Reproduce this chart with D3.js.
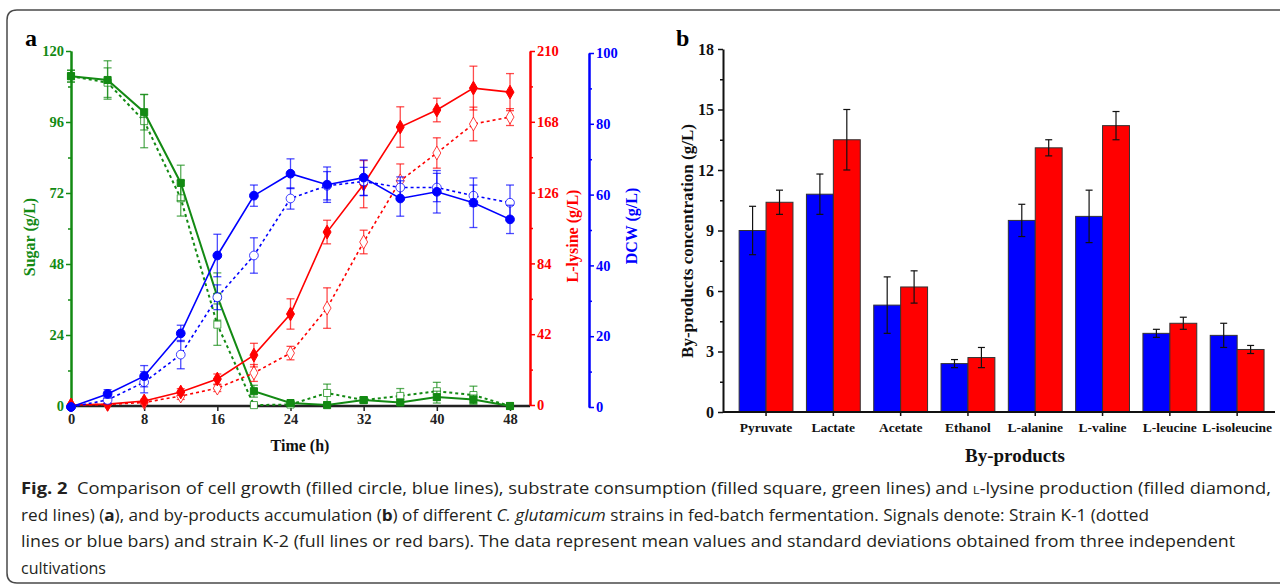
<!DOCTYPE html>
<html>
<head>
<meta charset="utf-8">
<script src="https://cdn.jsdelivr.net/npm/d3@7"></script>
<style>
  body { margin: 0; background: #fff; }
  svg { display: block; }
  .ax text { font-family: "Liberation Serif", serif; font-weight: bold; }
  .cap { font-family: "Open Sans", sans-serif; font-size: 16px; fill: #231f20; }
</style>
</head>
<body>
<div id="chart"></div>
<script>
// panel a data
var time = [0, 4, 8, 12, 16, 20, 24, 28, 32, 36, 40, 44, 48];
var sugarK2 = [111.5, 110.2, 99.3, 75.4, 37, 5, 1, 0.3, 2, 1.2, 3, 2.2, 0];
var sugarK2Err = [2, 6.5, 6, 6, 8, 2, 0.5, 0.3, 0.8, 1, 2, 1.5, 0.3];
var sugarK1 = [111.5, 109.3, 96.3, 70.2, 27.5, 0.3, 0.5, 4.4, 2, 3.4, 5, 3.7, 0];
var sugarK1Err = [2, 5, 9, 6, 7, 0.5, 0.3, 3, 1, 2.5, 3, 3, 0.3];
var lysK2 = [0, 0.5, 2.4, 7.7, 15.4, 29.6, 54, 102.6, 131, 164.9, 175, 188, 185.6];
var lysK2Err = [0.3, 0.5, 1, 2, 3, 7, 9, 7, 14, 12, 7, 13, 11];
var lysK1 = [0, 0.3, 1.5, 5.3, 10, 19, 30.8, 57.5, 96.7, 133, 149.5, 166.7, 170.8];
var lysK1Err = [0.3, 0.3, 1, 2, 2, 5, 4, 12, 7, 10, 9, 10, 5];
var dcwK2 = [0, 3.7, 8.7, 20.8, 42.8, 59.7, 65.9, 62.8, 64.8, 58.9, 60.8, 57.7, 53];
var dcwK2Err = [0.5, 1.2, 3, 2.3, 6, 3, 4.2, 5, 5, 5, 6, 7, 4];
var dcwK1 = [0, 2, 7, 14.8, 31, 42.8, 58.9, 62.5, 63.7, 62, 62, 59.7, 57.7];
var dcwK1Err = [0.5, 1, 3, 4, 3.5, 5, 3, 4, 4, 3, 4, 3, 5];
var timeTicks = [0, 8, 16, 24, 32, 40, 48];
var sugarTicks = [0, 24, 48, 72, 96, 120];
var lysTicks = [0, 42, 84, 126, 168, 210];
var dcwTicks = [0, 20, 40, 60, 80, 100];

// panel b data
var byCats = ['Pyruvate', 'Lactate', 'Acetate', 'Ethanol', 'L-alanine', 'L-valine', 'L-leucine', 'L-isoleucine'];
var byK1 = [9.0, 10.8, 5.3, 2.4, 9.5, 9.7, 3.9, 3.8];
var byK1Err = [1.2, 1.0, 1.4, 0.2, 0.8, 1.3, 0.2, 0.6];
var byK2 = [10.4, 13.5, 6.2, 2.7, 13.1, 14.2, 4.4, 3.1];
var byK2Err = [0.6, 1.5, 0.8, 0.5, 0.4, 0.7, 0.3, 0.2];
var byTicks = [0, 3, 6, 9, 12, 15, 18];

var GREEN = '#138a13', RED = '#ff0000', BLUE = '#0000ff';

var svg = d3.select('#chart').append('svg')
  .attr('width', 1280).attr('height', 586);

// frame with rounded corner, open to the right
svg.append('path')
  .attr('d', 'M1290,10 H17 Q7,10 7,20 V573 Q7,583 17,583 H1290')
  .attr('fill', 'none').attr('stroke', '#4a4a4a').attr('stroke-width', 1.5);

// ---------- panel a ----------
var x = d3.scaleLinear().domain([0, 48]).range([71, 510]);
var ySugar = d3.scaleLinear().domain([0, 120]).range([406, 51]);
var yLys = d3.scaleLinear().domain([0, 210]).range([405, 51]);
var yDcw = d3.scaleLinear().domain([0, 100]).range([407, 53]);

function axisStyle(g, color) {
  g.select('.domain').attr('stroke', color).attr('stroke-width', 2);
  g.selectAll('line').attr('stroke', color).attr('stroke-width', 1.5);
  g.selectAll('text').attr('fill', color);
}

function minorTicks(scale, step) {
  var d = scale.domain(), out = [];
  for (var v = d[0] + step; v < d[1]; v += 2 * step) out.push(v);
  return out;
}

// x axis
var gx = svg.append('g').attr('class', 'ax').attr('transform', 'translate(0,406)')
  .call(d3.axisBottom(x).tickValues(timeTicks).tickSize(5).tickPadding(3).tickSizeOuter(0));
gx.select('.domain').attr('d', 'M71,0H530');
axisStyle(gx, '#222');
gx.selectAll('text').style('font-size', '14.5px');
gx.select('.domain').attr('stroke-width', 2.5);

// sugar axis (left)
var gs = svg.append('g').attr('class', 'ax').attr('transform', 'translate(71,0)')
  .call(d3.axisLeft(ySugar).tickValues(sugarTicks).tickSize(5).tickPadding(2).tickSizeOuter(0));
gs.selectAll('text').style('font-size', '14.5px');
svg.append('g').attr('class', 'ax').attr('transform', 'translate(71,0)')
  .call(d3.axisLeft(ySugar).tickValues(minorTicks(ySugar, 12)).tickSize(3).tickFormat('').tickSizeOuter(0))
  .call(function (g) { axisStyle(g, GREEN); });
axisStyle(gs, GREEN);

// lysine axis (right 1)
var gl = svg.append('g').attr('class', 'ax').attr('transform', 'translate(530,0)')
  .call(d3.axisRight(yLys).tickValues(lysTicks).tickSize(5).tickPadding(2).tickSizeOuter(0));
gl.selectAll('text').style('font-size', '14.5px');
svg.append('g').attr('class', 'ax').attr('transform', 'translate(530,0)')
  .call(d3.axisRight(yLys).tickValues(minorTicks(yLys, 21)).tickSize(3).tickFormat('').tickSizeOuter(0))
  .call(function (g) { axisStyle(g, RED); });
axisStyle(gl, RED);

// dcw axis (right 2)
var gd = svg.append('g').attr('class', 'ax').attr('transform', 'translate(589,0)')
  .call(d3.axisRight(yDcw).tickValues(dcwTicks).tickSize(5).tickPadding(2).tickSizeOuter(0));
gd.selectAll('text').style('font-size', '14.5px');
svg.append('g').attr('class', 'ax').attr('transform', 'translate(589,0)')
  .call(d3.axisRight(yDcw).tickValues(minorTicks(yDcw, 10)).tickSize(3).tickFormat('').tickSizeOuter(0))
  .call(function (g) { axisStyle(g, BLUE); });
axisStyle(gd, BLUE);

// axis titles
function vtitle(tx, ty, txt, color, size) {
  svg.append('text')
    .attr('transform', 'translate(' + tx + ',' + ty + ') rotate(-90)')
    .attr('text-anchor', 'middle')
    .style('font-family', '"Liberation Serif", serif').style('font-weight', 'bold')
    .style('font-size', size + 'px').attr('fill', color).text(txt);
}
vtitle(35, 237, 'Sugar (g/L)', GREEN, 16);
vtitle(578, 236, 'L-lysine (g/L)', RED, 16);
vtitle(637, 226, 'DCW (g/L)', BLUE, 16);
svg.append('text').attr('x', 300).attr('y', 451).attr('text-anchor', 'middle')
  .style('font-family', '"Liberation Serif", serif').style('font-weight', 'bold').style('font-size', '16px')
  .attr('fill', '#111').text('Time (h)');
svg.append('text').attr('x', 25).attr('y', 46)
  .style('font-family', '"Liberation Serif", serif').style('font-weight', 'bold').style('font-size', '24px')
  .attr('fill', '#000').text('a');

// series
function drawSeries(vals, errs, yScale, color, dashed, shape, filled, lw) {
  var g = svg.append('g');
  var pts = time.map(function (t, i) { return { t: t, v: vals[i], e: errs[i] }; });
  // error bars
  var eb = g.append('g').attr('stroke', color).attr('stroke-opacity', 0.7).attr('stroke-width', 1.3);
  pts.forEach(function (p) {
    var cx = x(p.t), y1 = yScale(p.v + p.e), y0 = yScale(Math.max(0, p.v - p.e));
    eb.append('line').attr('x1', cx).attr('x2', cx).attr('y1', y1).attr('y2', y0);
    eb.append('line').attr('x1', cx - 4).attr('x2', cx + 4).attr('y1', y1).attr('y2', y1);
    eb.append('line').attr('x1', cx - 4).attr('x2', cx + 4).attr('y1', y0).attr('y2', y0);
  });
  var line = d3.line().x(function (p) { return x(p.t); }).y(function (p) { return yScale(p.v); });
  g.append('path').datum(pts).attr('d', line).attr('fill', 'none')
    .attr('stroke', color).attr('stroke-width', lw)
    .attr('stroke-dasharray', dashed ? '3,3' : null);
  var sym = d3.symbol().type(shape).size(shape === d3.symbolSquare ? 50 : (shape === d3.symbolDiamond ? 55 : 60));
  g.selectAll('.m').data(pts).enter().append('path')
    .attr('d', sym)
    .attr('transform', function (p) { return 'translate(' + x(p.t) + ',' + yScale(p.v) + ')'; })
    .attr('fill', filled ? color : '#fff')
    .attr('stroke', color).attr('stroke-opacity', filled ? 1 : 0.75).attr('stroke-width', 1);
}

drawSeries(sugarK1, sugarK1Err, ySugar, GREEN, true, d3.symbolSquare, false, 2);
drawSeries(sugarK2, sugarK2Err, ySugar, GREEN, false, d3.symbolSquare, true, 2);
drawSeries(lysK1, lysK1Err, yLys, RED, true, d3.symbolDiamond, false, 1.6);
drawSeries(lysK2, lysK2Err, yLys, RED, false, d3.symbolDiamond, true, 1.6);
drawSeries(dcwK1, dcwK1Err, yDcw, BLUE, true, d3.symbolCircle, false, 1.6);
drawSeries(dcwK2, dcwK2Err, yDcw, BLUE, false, d3.symbolCircle, true, 1.6);

// ---------- panel b ----------
var xb = d3.scaleBand().domain(byCats).range([732.4, 1270.8]).paddingInner(0.2).paddingOuter(0.1);
var xs = d3.scaleBand().domain(['K1', 'K2']).range([0, xb.bandwidth()]);
var yb = d3.scaleLinear().domain([0, 18]).range([412, 49]);

var gbars = svg.append('g');
byCats.forEach(function (c, i) {
  [['K1', byK1[i], byK1Err[i], BLUE], ['K2', byK2[i], byK2Err[i], RED]].forEach(function (s) {
    var bx = xb(c) + xs(s[0]);
    gbars.append('rect').attr('x', bx).attr('y', yb(s[1]))
      .attr('width', xs.bandwidth()).attr('height', yb(0) - yb(s[1]))
      .attr('fill', s[3]).attr('stroke', '#333').attr('stroke-width', 1);
    var cx = bx + xs.bandwidth() / 2, t = yb(s[1] + s[2]), b = yb(s[1] - s[2]);
    var eg = gbars.append('g').attr('stroke', '#111').attr('stroke-width', 1.2);
    eg.append('line').attr('x1', cx).attr('x2', cx).attr('y1', t).attr('y2', b);
    eg.append('line').attr('x1', cx - 3.5).attr('x2', cx + 3.5).attr('y1', t).attr('y2', t);
    eg.append('line').attr('x1', cx - 3.5).attr('x2', cx + 3.5).attr('y1', b).attr('y2', b);
  });
});

var gyb = svg.append('g').attr('class', 'ax').attr('transform', 'translate(723,0)')
  .call(d3.axisLeft(yb).tickValues(byTicks).tickSize(5).tickPadding(4).tickSizeOuter(0));
gyb.selectAll('text').style('font-size', '16px');
axisStyle(gyb, '#111');
svg.append('g').attr('class', 'ax').attr('transform', 'translate(723,0)')
  .call(d3.axisLeft(yb).tickValues(minorTicks(yb, 1.5)).tickSize(3).tickFormat('').tickSizeOuter(0))
  .call(function (g) { axisStyle(g, '#111'); g.select('.domain').remove(); });

var gxb = svg.append('g').attr('class', 'ax').attr('transform', 'translate(0,412)')
  .call(d3.axisBottom(xb).tickSize(4).tickPadding(6).tickSizeOuter(0));
gxb.select('.domain').attr('d', 'M723,0H1275');
axisStyle(gxb, '#111');
gxb.selectAll('text').style('font-size', '13.5px');

vtitle(693, 241, 'By-products concentration (g/L)', '#111', 17);
svg.append('text').attr('x', 1015).attr('y', 462).attr('text-anchor', 'middle')
  .style('font-family', '"Liberation Serif", serif').style('font-weight', 'bold').style('font-size', '19px')
  .attr('fill', '#111').text('By-products');
svg.append('text').attr('x', 676).attr('y', 46)
  .style('font-family', '"Liberation Serif", serif').style('font-weight', 'bold').style('font-size', '24px')
  .attr('fill', '#000').text('b');

// ---------- caption ----------
var capLines = [
  [['Fig. 2', 'b'], ['  Comparison of cell growth (filled circle, blue lines), substrate consumption (filled square, green lines) and ', ''], ['L', 'sc'], ['-lysine production (filled diamond,', '']],
  [['red lines) (', ''], ['a', 'b'], ['), and by-products accumulation (', ''], ['b', 'b'], [') of different ', ''], ['C. glutamicum', 'i'], [' strains in fed-batch fermentation. Signals denote: Strain K-1 (dotted', '']],
  [['lines or blue bars) and strain K-2 (full lines or red bars). The data represent mean values and standard deviations obtained from three independent', '']],
  [['cultivations', '']]
];
var capLens = [1250, 1128, 1214, 0];
capLines.forEach(function (parts, li) {
  var t = svg.append('text').attr('class', 'cap').attr('x', 21).attr('y', 494 + li * 26.7)
    .attr('xml:space', 'preserve');
  if (capLens[li]) t.attr('textLength', capLens[li]).attr('lengthAdjust', 'spacingAndGlyphs');
  parts.forEach(function (p) {
    var s = t.append('tspan').text(p[0]);
    if (p[1] === 'b') s.style('font-weight', 'bold');
    if (p[1] === 'i') s.style('font-style', 'italic');
    if (p[1] === 'sc') s.style('font-size', '11.5px');
  });
});
</script>
</body>
</html>
